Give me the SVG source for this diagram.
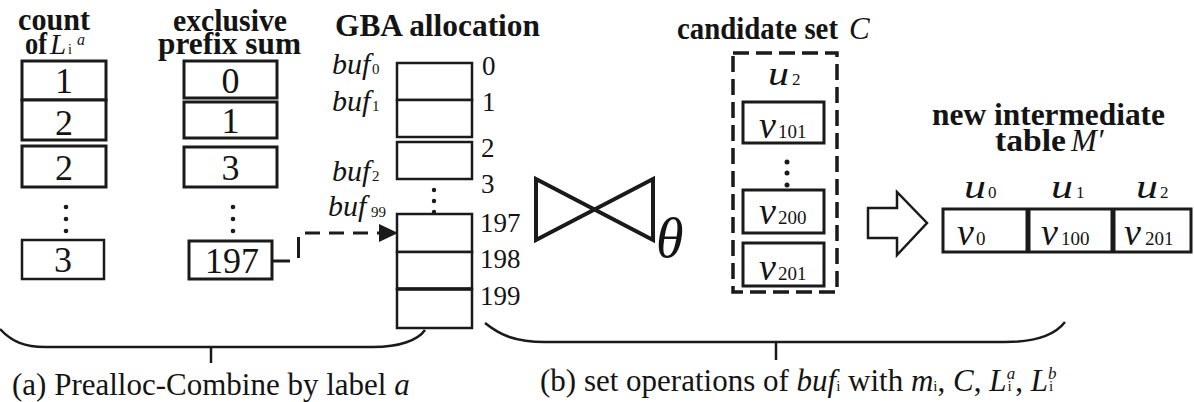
<svg xmlns="http://www.w3.org/2000/svg" width="1194" height="402" viewBox="0 0 1194 402">
<style>
text{font-family:"Liberation Serif","Times New Roman",Times,serif;fill:#141414}
.t{font-weight:bold;font-size:32px}
.it{font-style:italic}
.dg{font-size:36px;text-anchor:middle}
.num{font-size:27px}
.box{fill:#fff;stroke:#1a1a1a;stroke-width:3}
.bx{fill:#fff;stroke:#1a1a1a;stroke-width:2.5}
.ln{fill:none;stroke:#1a1a1a;stroke-width:2.5}
.dot{fill:#1a1a1a}
.buf{font-size:30px;font-style:italic}
.sb{font-size:15px}
.v{font-size:38px;font-style:italic}
.s{font-size:19px}
</style>
<g id="count-column">
<text class="t" x="18" y="30" textLength="72" lengthAdjust="spacingAndGlyphs">count</text>
<text class="t" x="25" y="54" font-size="30" textLength="22" lengthAdjust="spacingAndGlyphs">of</text>
<text class="it" x="50" y="54" font-size="29">L</text>
<text x="68" y="54" font-size="14">i</text>
<text class="it" x="77" y="45" font-size="16">a</text>
<rect class="box" x="22" y="61" width="84" height="39"/>
<rect class="box" x="22" y="100" width="84" height="40"/>
<rect class="box" x="22" y="146" width="84" height="41"/>
<text class="dg" x="64" y="93">1</text>
<text class="dg" x="64" y="135">2</text>
<text class="dg" x="64" y="180">2</text>
<circle class="dot" cx="66" cy="207" r="2.3"/>
<circle class="dot" cx="66" cy="219" r="2.3"/>
<circle class="dot" cx="66" cy="231" r="2.3"/>
<rect class="bx" x="22" y="240" width="82" height="39"/>
<text class="dg" x="63" y="272">3</text>
</g>
<g id="prefix-column">
<text class="t" x="173" y="31" textLength="114" lengthAdjust="spacingAndGlyphs">exclusive</text>
<text class="t" x="158" y="54" textLength="143" lengthAdjust="spacingAndGlyphs">prefix sum</text>
<rect class="box" x="184" y="61" width="93" height="37"/>
<rect class="box" x="184" y="102" width="93" height="36"/>
<rect class="box" x="184" y="147" width="93" height="40"/>
<text class="dg" x="230.5" y="93">0</text>
<text class="dg" x="230.5" y="133">1</text>
<text class="dg" x="230.5" y="180">3</text>
<circle class="dot" cx="233" cy="207" r="2.3"/>
<circle class="dot" cx="233" cy="219" r="2.3"/>
<circle class="dot" cx="233" cy="231" r="2.3"/>
<rect class="box" x="189" y="241" width="83" height="38" stroke-width="3.5"/>
<text class="dg" x="232" y="273">197</text>
</g>
<g id="gba-allocation">
<text class="t" x="335" y="36" textLength="205" lengthAdjust="spacingAndGlyphs">GBA allocation</text>
<rect class="bx" x="397" y="63" width="75" height="37"/>
<rect class="bx" x="397" y="100" width="75" height="37"/>
<rect class="bx" x="397" y="142" width="75" height="37"/>
<circle class="dot" cx="434" cy="190" r="2.2"/>
<circle class="dot" cx="434" cy="201" r="2.2"/>
<circle class="dot" cx="434" cy="212" r="2.2"/>
<rect class="bx" x="397" y="214" width="75" height="38"/>
<rect class="bx" x="397" y="252" width="75" height="37"/>
<rect class="bx" x="397" y="289" width="75" height="39"/>
<line x1="397" y1="289" x2="472" y2="289" stroke="#1a1a1a" stroke-width="3.5"/>
<text class="num" x="482" y="75">0</text>
<text class="num" x="482" y="111">1</text>
<text class="num" x="481" y="157">2</text>
<text class="num" x="481" y="193">3</text>
<text class="num" x="480" y="232">197</text>
<text class="num" x="480" y="268">198</text>
<text class="num" x="480" y="305">199</text>
<text class="buf" x="332" y="74">buf</text><text class="sb" x="372" y="74">0</text>
<text class="buf" x="332" y="111">buf</text><text class="sb" x="372" y="111">1</text>
<text class="buf" x="332" y="181">buf</text><text class="sb" x="372" y="181">2</text>
<text class="buf" x="328" y="216">buf</text><text class="sb" x="371" y="217">99</text>
</g>
<g id="join-operator">
<path d="M536,179 L653,240 L653,179 L536,240 Z" fill="none" stroke="#1a1a1a" stroke-width="4" stroke-linejoin="miter"/>
<text class="it" x="656" y="257" font-size="56">θ</text>
</g>
<g id="candidate-set">
<text class="t" x="677" y="39" textLength="161" lengthAdjust="spacingAndGlyphs">candidate set</text>
<text class="it" x="849" y="39" font-size="31">C</text>
<rect x="733" y="53" width="104" height="239" fill="none" stroke="#1a1a1a" stroke-width="3.5" stroke-dasharray="16,7"/>
<text class="it" x="768" y="85" font-size="34" textLength="21" lengthAdjust="spacingAndGlyphs">u</text>
<text x="792" y="85" font-size="17">2</text>
<rect class="box" x="743" y="102" width="81" height="41" stroke-width="3.5"/>
<text class="v" x="759" y="138">v</text><text class="s" x="778" y="138">101</text>
<circle class="dot" cx="787" cy="162" r="2.5"/>
<circle class="dot" cx="787" cy="173" r="2.5"/>
<circle class="dot" cx="787" cy="185" r="2.5"/>
<rect class="box" x="743" y="190" width="81" height="43" stroke-width="3.5"/>
<text class="v" x="759" y="224">v</text><text class="s" x="778" y="224">200</text>
<rect class="box" x="743" y="243" width="81" height="43" stroke-width="3.5"/>
<text class="v" x="759" y="280">v</text><text class="s" x="778" y="280">201</text>
</g>
<g id="result-arrow">
<polygon points="868,208 897,208 897,192 927,223 897,255 897,238 868,238" fill="#fff" stroke="#1a1a1a" stroke-width="2.5" stroke-linejoin="miter"/>
</g>
<g id="table-m-prime">
<text class="t" x="932" y="125" textLength="233" lengthAdjust="spacingAndGlyphs">new intermediate</text>
<text class="t" x="995" y="151" textLength="71" lengthAdjust="spacingAndGlyphs">table</text>
<text class="it" x="1071" y="151" font-size="31">M′</text>
<text class="it" x="964" y="198" font-size="34" textLength="22" lengthAdjust="spacingAndGlyphs">u</text>
<text x="988" y="198" font-size="17">0</text>
<text class="it" x="1051" y="198" font-size="34" textLength="22" lengthAdjust="spacingAndGlyphs">u</text>
<text x="1076" y="198" font-size="17">1</text>
<text class="it" x="1136" y="198" font-size="34" textLength="22" lengthAdjust="spacingAndGlyphs">u</text>
<text x="1160" y="198" font-size="17">2</text>
<rect class="box" x="943" y="209" width="248" height="43"/>
<line x1="1028" y1="209" x2="1028" y2="252" stroke="#1a1a1a" stroke-width="5"/>
<line x1="1113" y1="209" x2="1113" y2="252" stroke="#1a1a1a" stroke-width="5"/>
<text class="v" x="957" y="245">v</text><text class="s" x="976" y="245">0</text>
<text class="v" x="1041" y="245">v</text><text class="s" x="1061" y="245">100</text>
<text class="v" x="1124" y="245">v</text><text class="s" x="1145" y="245">201</text>
</g>
<g id="connectors">
<line x1="272" y1="261" x2="290" y2="261" stroke="#1a1a1a" stroke-width="3"/>
<line x1="298.5" y1="258" x2="298.5" y2="237" stroke="#1a1a1a" stroke-width="3"/>
<line x1="305" y1="233" x2="381" y2="233" stroke="#1a1a1a" stroke-width="3" stroke-dasharray="15,9"/>
<polygon points="379,224 398,233 379,242" fill="#1a1a1a"/>
</g>
<g id="brace-a">
<path class="ln" d="M0,329 C12,342 25,347 45,347 H373 C400,347 418,340 425,330"/>
<line class="ln" x1="211" y1="347" x2="211" y2="363"/>
<text x="12" y="395" font-size="31">(a) Prealloc-Combine by label <tspan font-style="italic">a</tspan></text>
</g>
<g id="brace-b">
<path class="ln" d="M485,323 C500,335 515,342 545,342 H1005 C1035,342 1055,335 1065,322"/>
<line class="ln" x1="776" y1="342" x2="776" y2="360"/>
<text x="540" y="391" font-size="31">(b) set operations of <tspan font-style="italic">buf</tspan><tspan font-size="15">i</tspan>  with <tspan font-style="italic">m</tspan><tspan font-size="15">i</tspan>, <tspan font-style="italic">C</tspan>, <tspan font-style="italic">L</tspan><tspan font-size="15" dx="1">i</tspan><tspan font-size="17" font-style="italic" dx="-5" dy="-12">a</tspan><tspan dy="12">, </tspan><tspan font-style="italic">L</tspan><tspan font-size="15" dx="1">i</tspan><tspan font-size="17" font-style="italic" dx="-5" dy="-12">b</tspan></text>
</g>
</svg>
